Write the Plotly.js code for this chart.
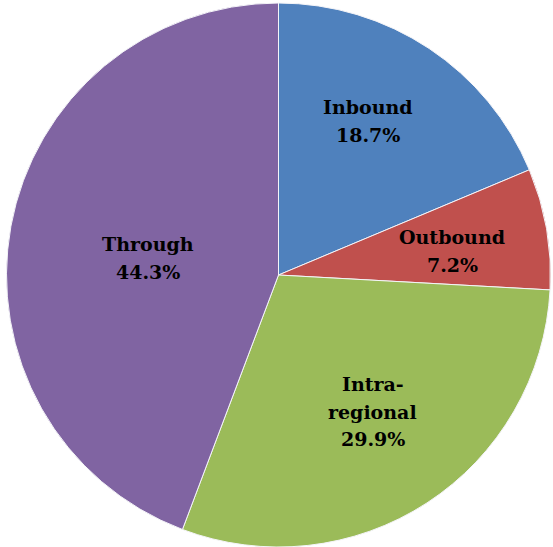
<!DOCTYPE html>
<html>
<head>
<meta charset="utf-8">
<script src="https://cdn.plot.ly/plotly-3.0.1.min.js"></script>
<style>html,body{margin:0;padding:0;background:#fff;}#chart{width:553px;height:547px;}</style>
</head>
<body>
<div id="chart"></div>
<script>
const categories = ['Inbound', 'Outbound', 'Intra-regional', 'Through'];
const displayLabels = ['Inbound', 'Outbound', 'Intra-<br>regional', 'Through'];
const shares = [18.7, 7.2, 29.9, 44.3];
const colors = ['#4F81BD', '#C0504D', '#9BBB59', '#8064A2'];

// label placement style (radial distance as fraction of radius, angular nudge in degrees)
const labelRadius = [0.655, 0.645, 0.61, 0.485];
const labelAngleShift = [-3.5, 2, -1.5, -3];
const lineGap = 27.5;

const W = 553, H = 547;
const dom = {x: [6/553, 551/553], y: [0, 544/547]};

const trace = {
  type: 'pie',
  labels: categories,
  values: shares,
  textinfo: 'none',
  hoverinfo: 'label+value',
  sort: false,
  direction: 'clockwise',
  rotation: 0,
  marker: {colors: colors, line: {color: '#f4f4f8', width: 1}},
  domain: dom,
  showlegend: false
};

const total = shares.reduce((a, b) => a + b, 0);
const cx = (dom.x[0] + dom.x[1]) / 2;
const cy = (dom.y[0] + dom.y[1]) / 2;
const rPx = Math.min((dom.x[1] - dom.x[0]) * W, (dom.y[1] - dom.y[0]) * H) / 2;
let cum = 0;
const annotations = [];
shares.forEach((v, i) => {
  const mid = (cum + v / 2) / total * 360 + labelAngleShift[i];
  cum += v;
  const a = mid * Math.PI / 180;
  const d = labelRadius[i] * rPx;
  const lines = displayLabels[i].split('<br>').concat([v.toFixed(1) + '%']);
  const n = lines.length;
  lines.forEach((ln, k) => {
    annotations.push({
      xref: 'paper', yref: 'paper',
      x: cx + d * Math.sin(a) / W,
      y: cy + d * Math.cos(a) / H,
      xanchor: 'center', yanchor: 'middle',
      yshift: ((n - 1) / 2 - k) * lineGap,
      text: '<b>' + ln + '</b>',
      showarrow: false,
      font: {family: 'DejaVu Serif', size: 19, color: '#000'},
      align: 'center'
    });
  });
});

Plotly.newPlot('chart', [trace], {
  width: W, height: H,
  margin: {l: 0, r: 0, t: 0, b: 0},
  paper_bgcolor: '#fff',
  showlegend: false,
  annotations: annotations
}, {displayModeBar: false, staticPlot: true});
</script>
</body>
</html>
